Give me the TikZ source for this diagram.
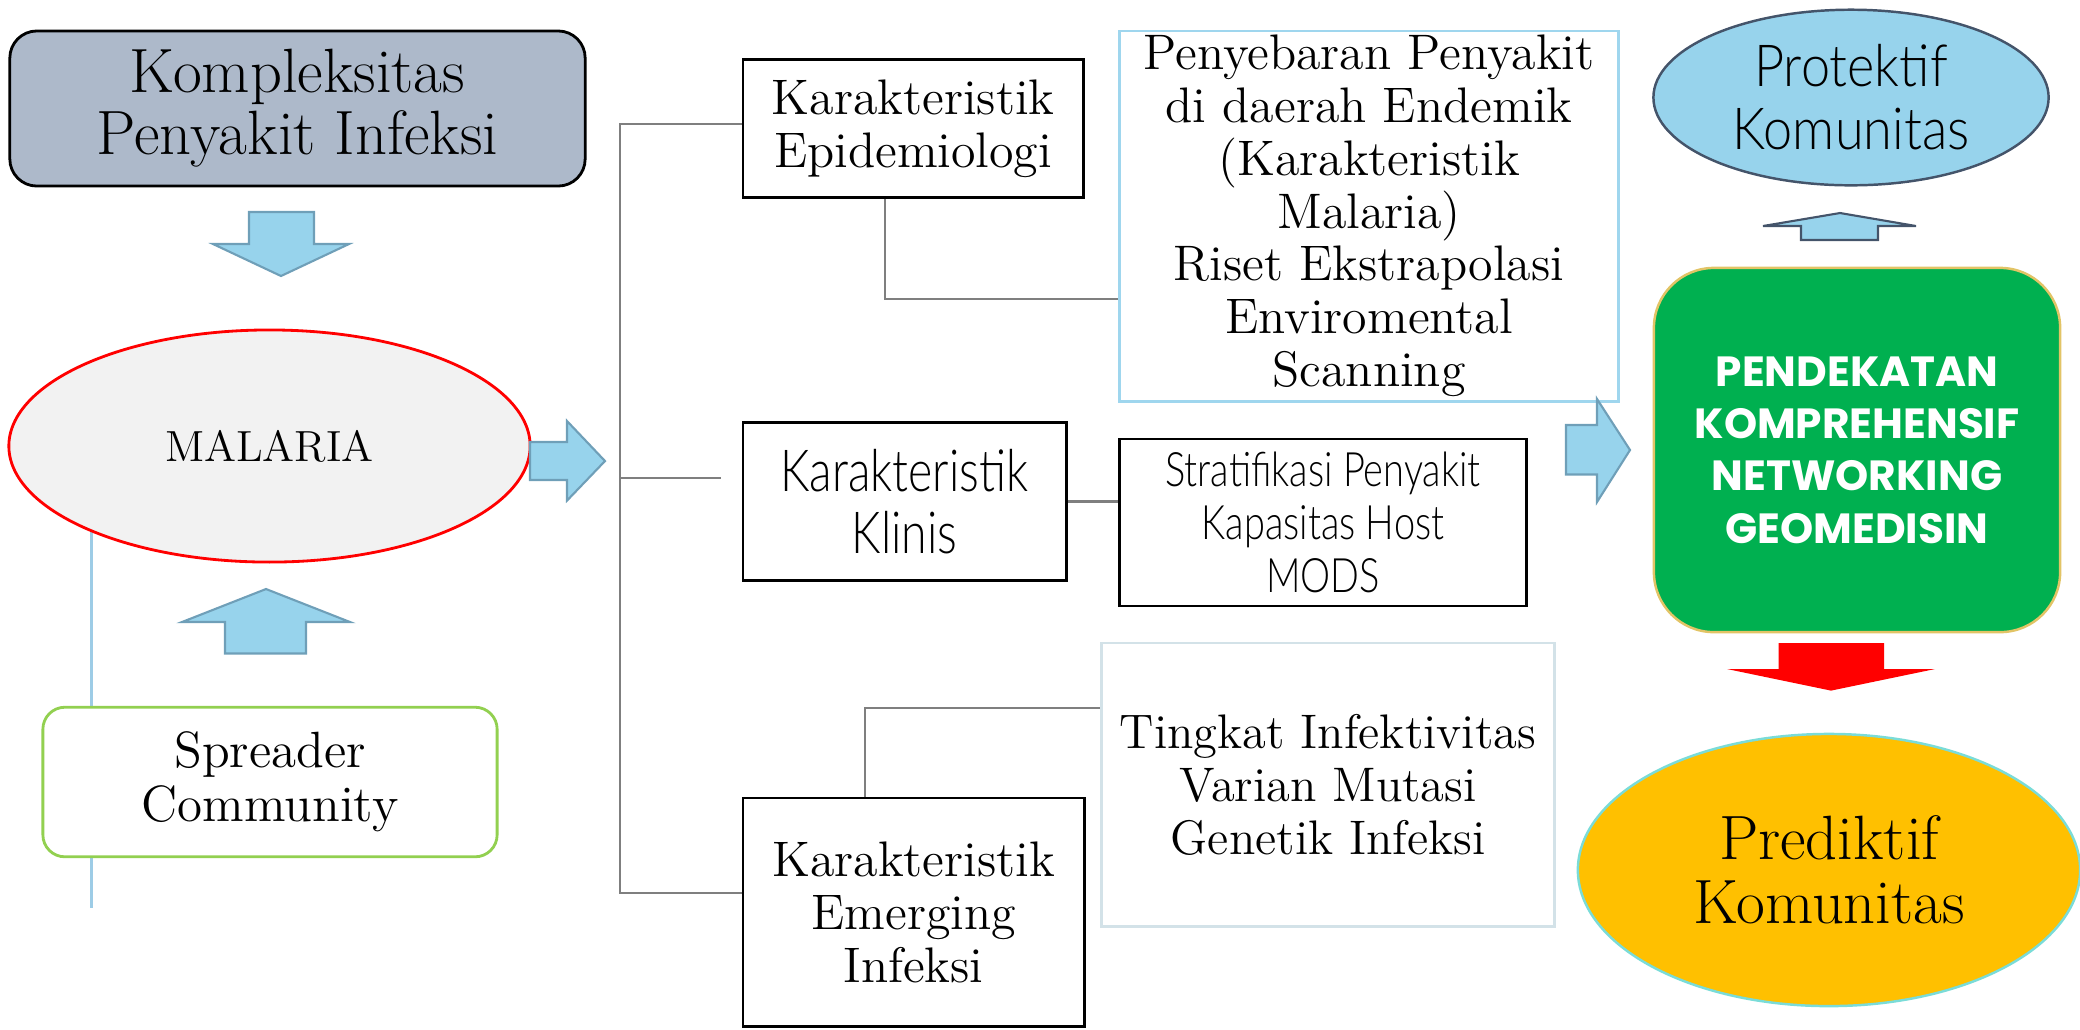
\documentclass[tikz,border=0pt]{standalone}
\usepackage{fontspec}
\newfontfamily\condsans[UprightFont=* Light, FakeStretch=0.80]{Lato}
\newfontfamily\lightsans[UprightFont=* Light, FakeStretch=0.90]{Lato}
\newfontfamily\heavysans{Poppins}
\usetikzlibrary{shapes.geometric}

\definecolor{slatefill}{HTML}{ADB9CA}
\definecolor{arrowblue}{HTML}{97D3EC}
\definecolor{arrowedge}{HTML}{6F9FB8}
\definecolor{darkedge}{HTML}{44546A}
\definecolor{malfill}{HTML}{F2F2F2}
\definecolor{sprgreen}{HTML}{92D050}
\definecolor{bigedge}{HTML}{9FD6EE}
\definecolor{tingedge}{HTML}{D3E2E8}
\definecolor{sideblue}{HTML}{9DCCE6}
\definecolor{linkgray}{HTML}{7F7F7F}
\definecolor{geogreen}{HTML}{00B050}
\definecolor{goldedge}{HTML}{E2C466}
\definecolor{predfill}{HTML}{FFC000}
\definecolor{prededge}{HTML}{7ADCD8}

\tikzset{
  every node/.style={inner sep=0pt, align=center},
  rectbox/.style={draw=black, line width=0.8pt, fill=white},
  blockarrow/.style={fill=arrowblue, draw=arrowedge, line width=0.6pt, line join=miter},
  link/.style={draw=linkgray, line width=0.6pt},
  sideline/.style={draw=sideblue, line width=0.7pt},
  serifA/.style={font=\fontsize{14.2}{15.1}\selectfont},
}

\begin{document}
\begin{tikzpicture}[x=0.01cm, y=-0.01cm]
\useasboundingbox (0,0) rectangle (2080,1029);

% thin blue line running behind the MALARIA ellipse and the spreader box
\coordinate (sideTop) at (91.5,446);
\coordinate (sideEnd) at (91.5,908);
\draw[sideline] (sideTop) -- (sideEnd);

% left column
\node[draw=black, line width=0.8pt, fill=slatefill, rounded corners=0.27cm,
      minimum width=5.75cm, minimum height=1.55cm,
      font=\fontsize{17.8}{17.6}\selectfont] (komp) at (297.5,108.5)
      {Kompleksitas\\Penyakit Infeksi};

\node[ellipse, draw=red, line width=0.8pt, fill=malfill,
      minimum width=5.21cm, minimum height=2.32cm,
      font=\fontsize{12.4}{14}\selectfont] (mal) at (269.5,446) {MALARIA};

\node[draw=sprgreen, line width=0.8pt, fill=white, rounded corners=0.22cm,
      minimum width=4.54cm, minimum height=1.495cm,
      font=\fontsize{14.5}{15.4}\selectfont] (spr) at (270,782)
      {Spreader\\Community};

% block arrows of the left column
\draw[blockarrow] (249,212) -- (314,212) -- (314,244) -- (349,244) -- (281,276)
  -- (213,244) -- (249,244) -- cycle;
\draw[blockarrow] (225,653.5) -- (225,622) -- (182,622) -- (266,589) -- (350,622)
  -- (306,622) -- (306,653.5) -- cycle;
\draw[blockarrow] (530,442) -- (567,442) -- (567,421) -- (605,461) -- (567,500.6)
  -- (567,480) -- (530,480) -- cycle;

% characteristic boxes
\node[rectbox, minimum width=3.40cm, minimum height=1.38cm, serifA] (epi) at (913,128.5)
      {Karakteristik\\Epidemiologi};
\node[rectbox, minimum width=3.23cm, minimum height=1.58cm,
      font=\condsans\fontsize{16.5}{17.6}\selectfont] (kli) at (904.5,501.5)
      {Karakteristik\\Klinis};
\node[rectbox, minimum width=3.41cm, minimum height=2.28cm, serifA] (emg) at (913.5,912)
      {Karakteristik\\Emerging\\Infeksi};

% detail boxes
\node[draw=bigedge, line width=0.8pt, fill=white, minimum width=4.985cm, minimum height=3.70cm,
      font=\fontsize{14.2}{15}\selectfont] (big) at (1369,216)
      {Penyebaran Penyakit\\di daerah Endemik\\(Karakteristik\\Malaria)\\Riset Ekstrapolasi\\Enviromental\\Scanning};
\node[rectbox, minimum width=4.07cm, minimum height=1.67cm,
      font=\condsans\fontsize{13.5}{15.1}\selectfont] (strat) at (1323,522.5)
      {Stratifikasi Penyakit\\Kapasitas Host\\MODS};
\node[draw=tingedge, line width=0.8pt, fill=white, minimum width=4.525cm, minimum height=2.83cm,
      font=\fontsize{13.8}{15.1}\selectfont] (ting) at (1328,784.5)
      {Tingkat Infektivitas\\Varian Mutasi\\Genetik Infeksi};

% bracket joining the three characteristics
\coordinate (brTop) at (620,124);
\coordinate (brMid) at (620,478);
\coordinate (brBot) at (620,893);
\coordinate (midEnd) at (721,478);
\draw[link] (brTop -| epi.west) -- (brTop) -- (brBot) -- (brBot -| emg.west);
\draw[link] (brMid) -- (midEnd);

% elbows to the detail boxes
\coordinate (epiBend) at (885,299);
\draw[link] (epiBend |- epi.south) -- (epiBend) -- (epiBend -| big.west);
\draw[link] (kli.east) -- (kli.east -| strat.west);
\coordinate (emgBend) at (865,708);
\draw[link] (emgBend |- emg.north) -- (emgBend) -- (emgBend -| ting.west);

% right column
\node[ellipse, draw=darkedge, line width=0.7pt, fill=arrowblue,
      minimum width=3.95cm, minimum height=1.755cm,
      font=\lightsans\fontsize{16.5}{17.9}\selectfont] (prot) at (1851,97.5)
      {Protektif\\Komunitas};

\node[draw=goldedge, line width=0.7pt, fill=geogreen, rounded corners=0.6cm,
      minimum width=4.06cm, minimum height=3.64cm, text=white,
      font=\heavysans\bfseries\fontsize{12}{14.9}\selectfont] (geo) at (1857,450)
      {PENDEKATAN\\KOMPREHENSIF\\NETWORKING\\GEOMEDISIN};

\node[ellipse, draw=prededge, line width=0.7pt, fill=predfill,
      minimum width=5.02cm, minimum height=2.72cm,
      font=\fontsize{17.8}{18.3}\selectfont] (pred) at (1829,870)
      {Prediktif\\Komunitas};

% block arrows of the right column
\draw[blockarrow] (1566,425) -- (1597,425) -- (1597,399) -- (1630,450) -- (1597,502)
  -- (1597,474.5) -- (1566,474.5) -- cycle;
\draw[blockarrow, draw=darkedge] (1801,240) -- (1801,226) -- (1763,226) -- (1840,213)
  -- (1916,226) -- (1878,226) -- (1878,240) -- cycle;
\fill[red] (1778.5,643) -- (1884,643) -- (1884,669) -- (1935,669) -- (1831,690.6)
  -- (1727,669) -- (1778.5,669) -- cycle;
\end{tikzpicture}
\end{document}
